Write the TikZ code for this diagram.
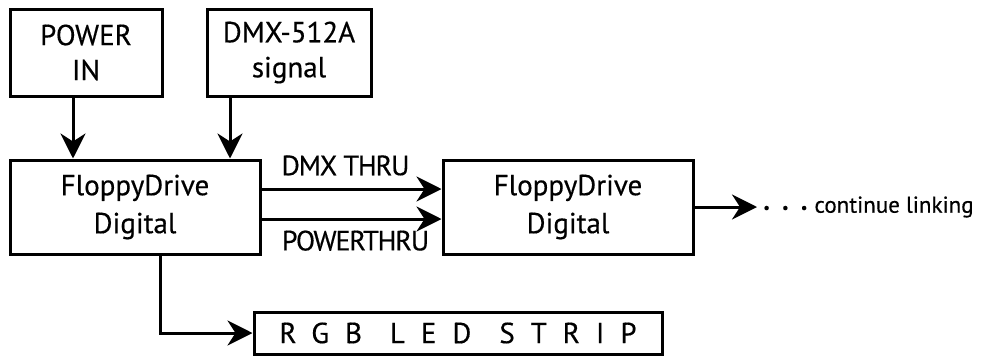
\documentclass[tikz,border=0pt]{standalone}
\usepackage{fontspec}
\setmainfont{PT Sans}[FakeBold=0.4]
\usetikzlibrary{arrows.meta}

\begin{document}
\begin{tikzpicture}[
  x=1pt, y=-1pt,
  box/.style = {draw, line width=3pt, inner sep=0pt, align=center},
  link/.style = {line width=3pt, -{Stealth[length=25pt,width=25pt,inset=8pt]}},
  tag/.style = {font=\fontsize{28}{30}\selectfont\addfontfeature{LetterSpace=-4}, inner sep=0pt},
  %big/.style = {font=\fontsize{30}{36}\selectfont},
]
  \useasboundingbox (0,0) rectangle (982,356);
  % inputs
  \node[box, minimum width=152pt, minimum height=87pt,
        font=\fontsize{29}{35}\selectfont] (power) at (86,52.5) {POWER\\IN};
  \node[box, minimum width=164pt, minimum height=87pt,
        font=\fontsize{29}{35}\selectfont] (dmx) at (289,52.5) {DMX-512A\\signal};
  % controllers
  \node[box, minimum width=250pt, minimum height=94pt,
        font=\fontsize{29}{38}\selectfont] (fdd1) at (135,207) {FloppyDrive\\Digital};
  \node[box, minimum width=250pt, minimum height=94pt,
        font=\fontsize{29}{38}\selectfont] (fdd2) at (568,207) {FloppyDrive\\Digital};
  % output
  \node[box, minimum width=408pt, minimum height=42pt,
        font=\fontsize{29}{35}\selectfont\addfontfeature{LetterSpace=55}] (strip) at (458,333)
        {RGB\hspace{28pt}LED\hspace{28pt}STRIP};
  \node[anchor=west, inner sep=0pt, font=\fontsize{23}{25}\selectfont] (more) at (757,207)
        {\hspace{6pt}{\fontsize{15}{15}\selectfont\textbullet\hspace{12pt}\textbullet\hspace{12pt}\textbullet}\hspace{7pt}continue linking};

  \coordinate (pin) at (73,0);
  \coordinate (sig) at (230,0);
  \coordinate (tap) at (160,0);
  \coordinate (dthru) at (0,189);
  \coordinate (pthru) at (0,219);

  \draw[link] (power.south -| pin) -- (fdd1.north -| pin);
  \draw[link] (dmx.south -| sig) -- (fdd1.north -| sig);
  \draw[link] (fdd1.east |- dthru) -- node[tag, above=12pt, xshift=-6pt] (dlbl) {DMX THRU} (fdd2.west |- dthru);
  \draw[link] (fdd1.east |- pthru) -- node[tag, below=10pt, xshift=4pt] (plbl) {POWERTHRU} (fdd2.west |- pthru);
  \draw[link] (fdd2.east) -- (more.west);
  \draw[link] (fdd1.south -| tap) |- (strip.west);
\end{tikzpicture}
\end{document}
